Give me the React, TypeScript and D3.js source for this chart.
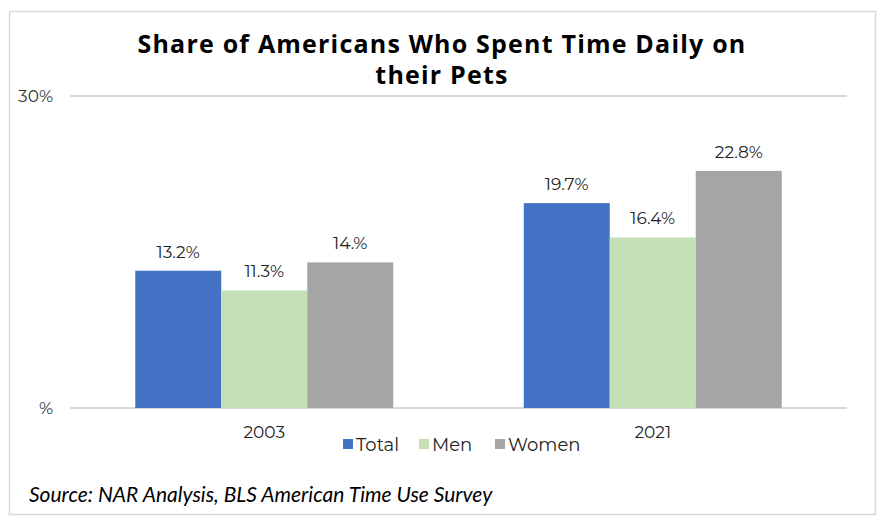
import React from "react";
import * as d3 from "d3";

const years = ["2003", "2021"];
const series = ["Total", "Men", "Women"];
const totalValues = [13.2, 19.7];
const menValues = [11.3, 16.4];
const womenValues = [14.0, 22.8];
const valueLabels = [["13.2%", "11.3%", "14.%"], ["19.7%", "16.4%", "22.8%"]];
const colors = ["#4472C4", "#C5E0B4", "#A5A5A5"];
const yTicks = [0, 30];
const yTickLabels = ["%", "30%"];

const W = 885;
const H = 531;

export default function App() {
  const seriesValues = [totalValues, menValues, womenValues];
  const x0 = d3.scaleBand<string>().domain(years).range([70, 847]).paddingInner(0.336).paddingOuter(0.168);
  const x1 = d3.scaleBand<string>().domain(series).range([0, x0.bandwidth()]).padding(0);
  const y = d3.scaleLinear().domain([0, 30]).range([408, 96]);

  const labelFont = "'Montserrat', 'Open Sans', 'Noto Sans', sans-serif";

  return (
    <svg width={W} height={H} style={{ position: "absolute", left: 0, top: 0, background: "#fff" }}>
      <rect x={9.5} y={11.5} width={866} height={503} fill="#fff" stroke="#d9d9d9" strokeWidth={1.5} />
      <text x={442} y={53} textAnchor="middle" fontFamily="'Open Sans', sans-serif" fontWeight={700} fontSize={25} letterSpacing={1.2} fill="#000">
        Share of Americans Who Spent Time Daily on
      </text>
      <text x={442} y={84} textAnchor="middle" fontFamily="'Open Sans', sans-serif" fontWeight={700} fontSize={25} letterSpacing={1.2} fill="#000">
        their Pets
      </text>
      {yTicks.map((t, i) => (
        <g key={t}>
          <line x1={70} x2={847} y1={y(t)} y2={y(t)} stroke="#d9d9d9" strokeWidth={2} />
          <text x={53} y={y(t) + 6} textAnchor="end" fontFamily={labelFont} fontSize={17} fill="#333">
            {yTickLabels[i]}
          </text>
        </g>
      ))}
      {years.map((yr, yi) => (
        <g key={yr} transform={`translate(${x0(yr)},0)`}>
          {series.map((s, si) => {
            const v = seriesValues[si][yi];
            const bx = x1(s)!;
            return (
              <g key={s}>
                <rect x={bx} y={y(v)} width={x1.bandwidth()} height={y(0) - y(v)} fill={colors[si]} />
                <text x={bx + x1.bandwidth() / 2} y={y(v) - 13} textAnchor="middle" fontFamily={labelFont} fontSize={17} fill="#222">
                  {valueLabels[yi][si]}
                </text>
              </g>
            );
          })}
          <text x={x0.bandwidth() / 2} y={438} textAnchor="middle" fontFamily={labelFont} fontSize={17} fill="#222">
            {yr}
          </text>
        </g>
      ))}
      {series.map((s, si) => {
        const lx = [343, 419, 495][si];
        return (
          <g key={s}>
            <rect x={lx} y={439} width={10} height={10} fill={colors[si]} />
            <text x={lx + 13} y={451} fontFamily={labelFont} fontSize={18} fill="#222">
              {s}
            </text>
          </g>
        );
      })}
      <text x={29} y={502} fontFamily="'Lato', 'Open Sans', sans-serif" fontStyle="italic" fontSize={21} fill="#000">
        Source: NAR Analysis, BLS American Time Use Survey
      </text>
    </svg>
  );
}
